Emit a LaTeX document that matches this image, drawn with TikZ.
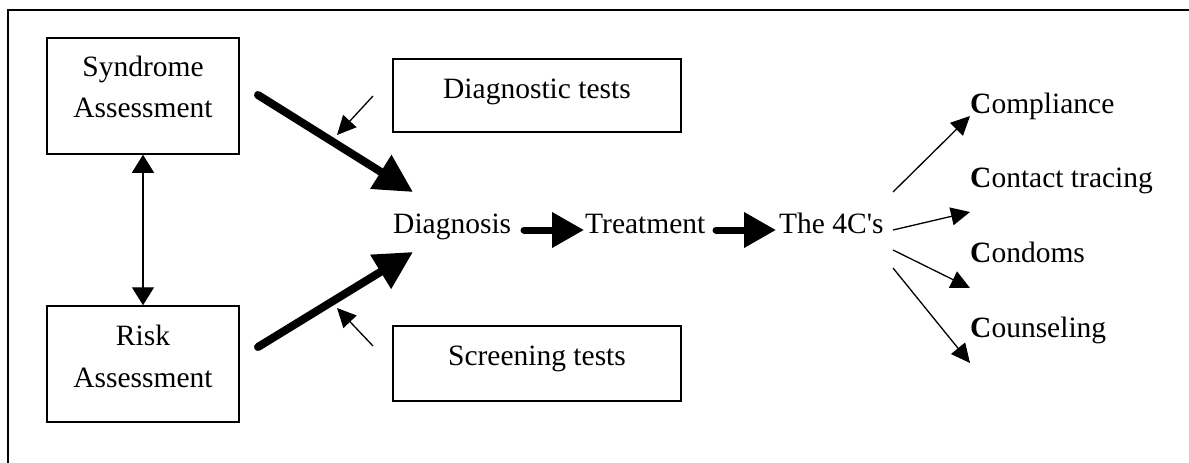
\documentclass[tikz,border=0pt]{standalone}
\usepackage{fontspec}
\setmainfont{Liberation Serif}
\newfontfamily\rawserif{Liberation Serif}[Ligatures=ResetAll]
\usetikzlibrary{arrows.meta}
\begin{document}
\begin{tikzpicture}[x=1pt,y=-1pt,
  box/.style={draw,line width=1.5pt,inner sep=0pt},
  lbl/.style={inner sep=0pt,anchor=base,font=\fontsize{29.5}{35}\selectfont},
  lblw/.style={inner sep=0pt,anchor=base west,font=\fontsize{29.5}{35}\selectfont},
  bigarrow/.style={line width=8pt,line cap=round,-{Triangle[length=38pt,width=38pt]}},
  midarrow/.style={line width=7pt,line cap=round,-{Triangle[length=32pt,width=34pt]}},
  thinarrow/.style={line width=1.3pt,-{Triangle[length=19pt,width=18pt]}},
  dblarrow/.style={line width=1.3pt,{Triangle[length=18pt,width=22pt]}-{Triangle[length=18pt,width=22pt]}}]
\useasboundingbox (0,0) rectangle (1189,463);
% frame
\draw[line width=1.3pt] (8,463) -- (8,10) -- (1189,10);
% boxes
\node[box,minimum width=192pt,minimum height=116pt] (syn) at (143,96) {};
\node[box,minimum width=192pt,minimum height=116pt] (risk) at (143,364) {};
\node[box,minimum width=288pt,minimum height=73pt] (dtest) at (537,95.5) {};
\node[box,minimum width=288pt,minimum height=75pt] (stest) at (537,363.5) {};
% box texts
\node[lbl] (syn1) at (143,76) {Syndrome};
\node[lbl] (syn2) at (143,117) {Assessment};
\node[lbl] (risk1) at (143,345) {Risk};
\node[lbl] (risk2) at (143,387) {Assessment};
\node[lbl] (dtesttxt) at (537,98) {Diagnostic tests};
\node[lbl] (stesttxt) at (537,365) {Screening tests};
% chain
\node[lblw] (diag) at (393,233) {Diagnosis};
\node[lblw] (treat) at (585,233) {Treatment};
\node[lblw] (fourc) at (779,233) {{\rawserif The 4C's}};
% outcomes
\node[lblw] (c1) at (970,113) {\textbf{C}ompliance};
\node[lblw] (c2) at (970,187) {\textbf{C}ontact tracing};
\node[lblw] (c3) at (970,262) {\textbf{C}ondoms};
\node[lblw] (c4) at (970,337) {\textbf{C}ounseling};
% arrow end coordinates
\coordinate (s0) at (258,95);
\coordinate (s1) at (413,192);
\coordinate (r0) at (258,347);
\coordinate (r1) at (413,252);
\coordinate (d0) at (373,96);
\coordinate (d1) at (337,135);
\coordinate (q0) at (373,346);
\coordinate (q1) at (337,308);
\coordinate (t0) at (524,230);
\coordinate (t1) at (584,230);
\coordinate (u0) at (716,230);
\coordinate (u1) at (776,230);
\coordinate (a0) at (893,192);
\coordinate (a1) at (970,116);
\coordinate (b0) at (893,230);
\coordinate (b1) at (970,212);
\coordinate (e0) at (893,250);
\coordinate (e1) at (970,288);
\coordinate (f0) at (893,268);
\coordinate (f1) at (970,363);
% arrows
\draw[dblarrow] (syn.south) -- (risk.north);
\draw[bigarrow] (s0) -- (s1);
\draw[bigarrow] (r0) -- (r1);
\draw[thinarrow] (d0) -- (d1);
\draw[thinarrow] (q0) -- (q1);
\draw[midarrow] (t0) -- (t1);
\draw[midarrow] (u0) -- (u1);
\draw[thinarrow] (a0) -- (a1);
\draw[thinarrow] (b0) -- (b1);
\draw[thinarrow] (e0) -- (e1);
\draw[thinarrow] (f0) -- (f1);
\end{tikzpicture}
\end{document}
